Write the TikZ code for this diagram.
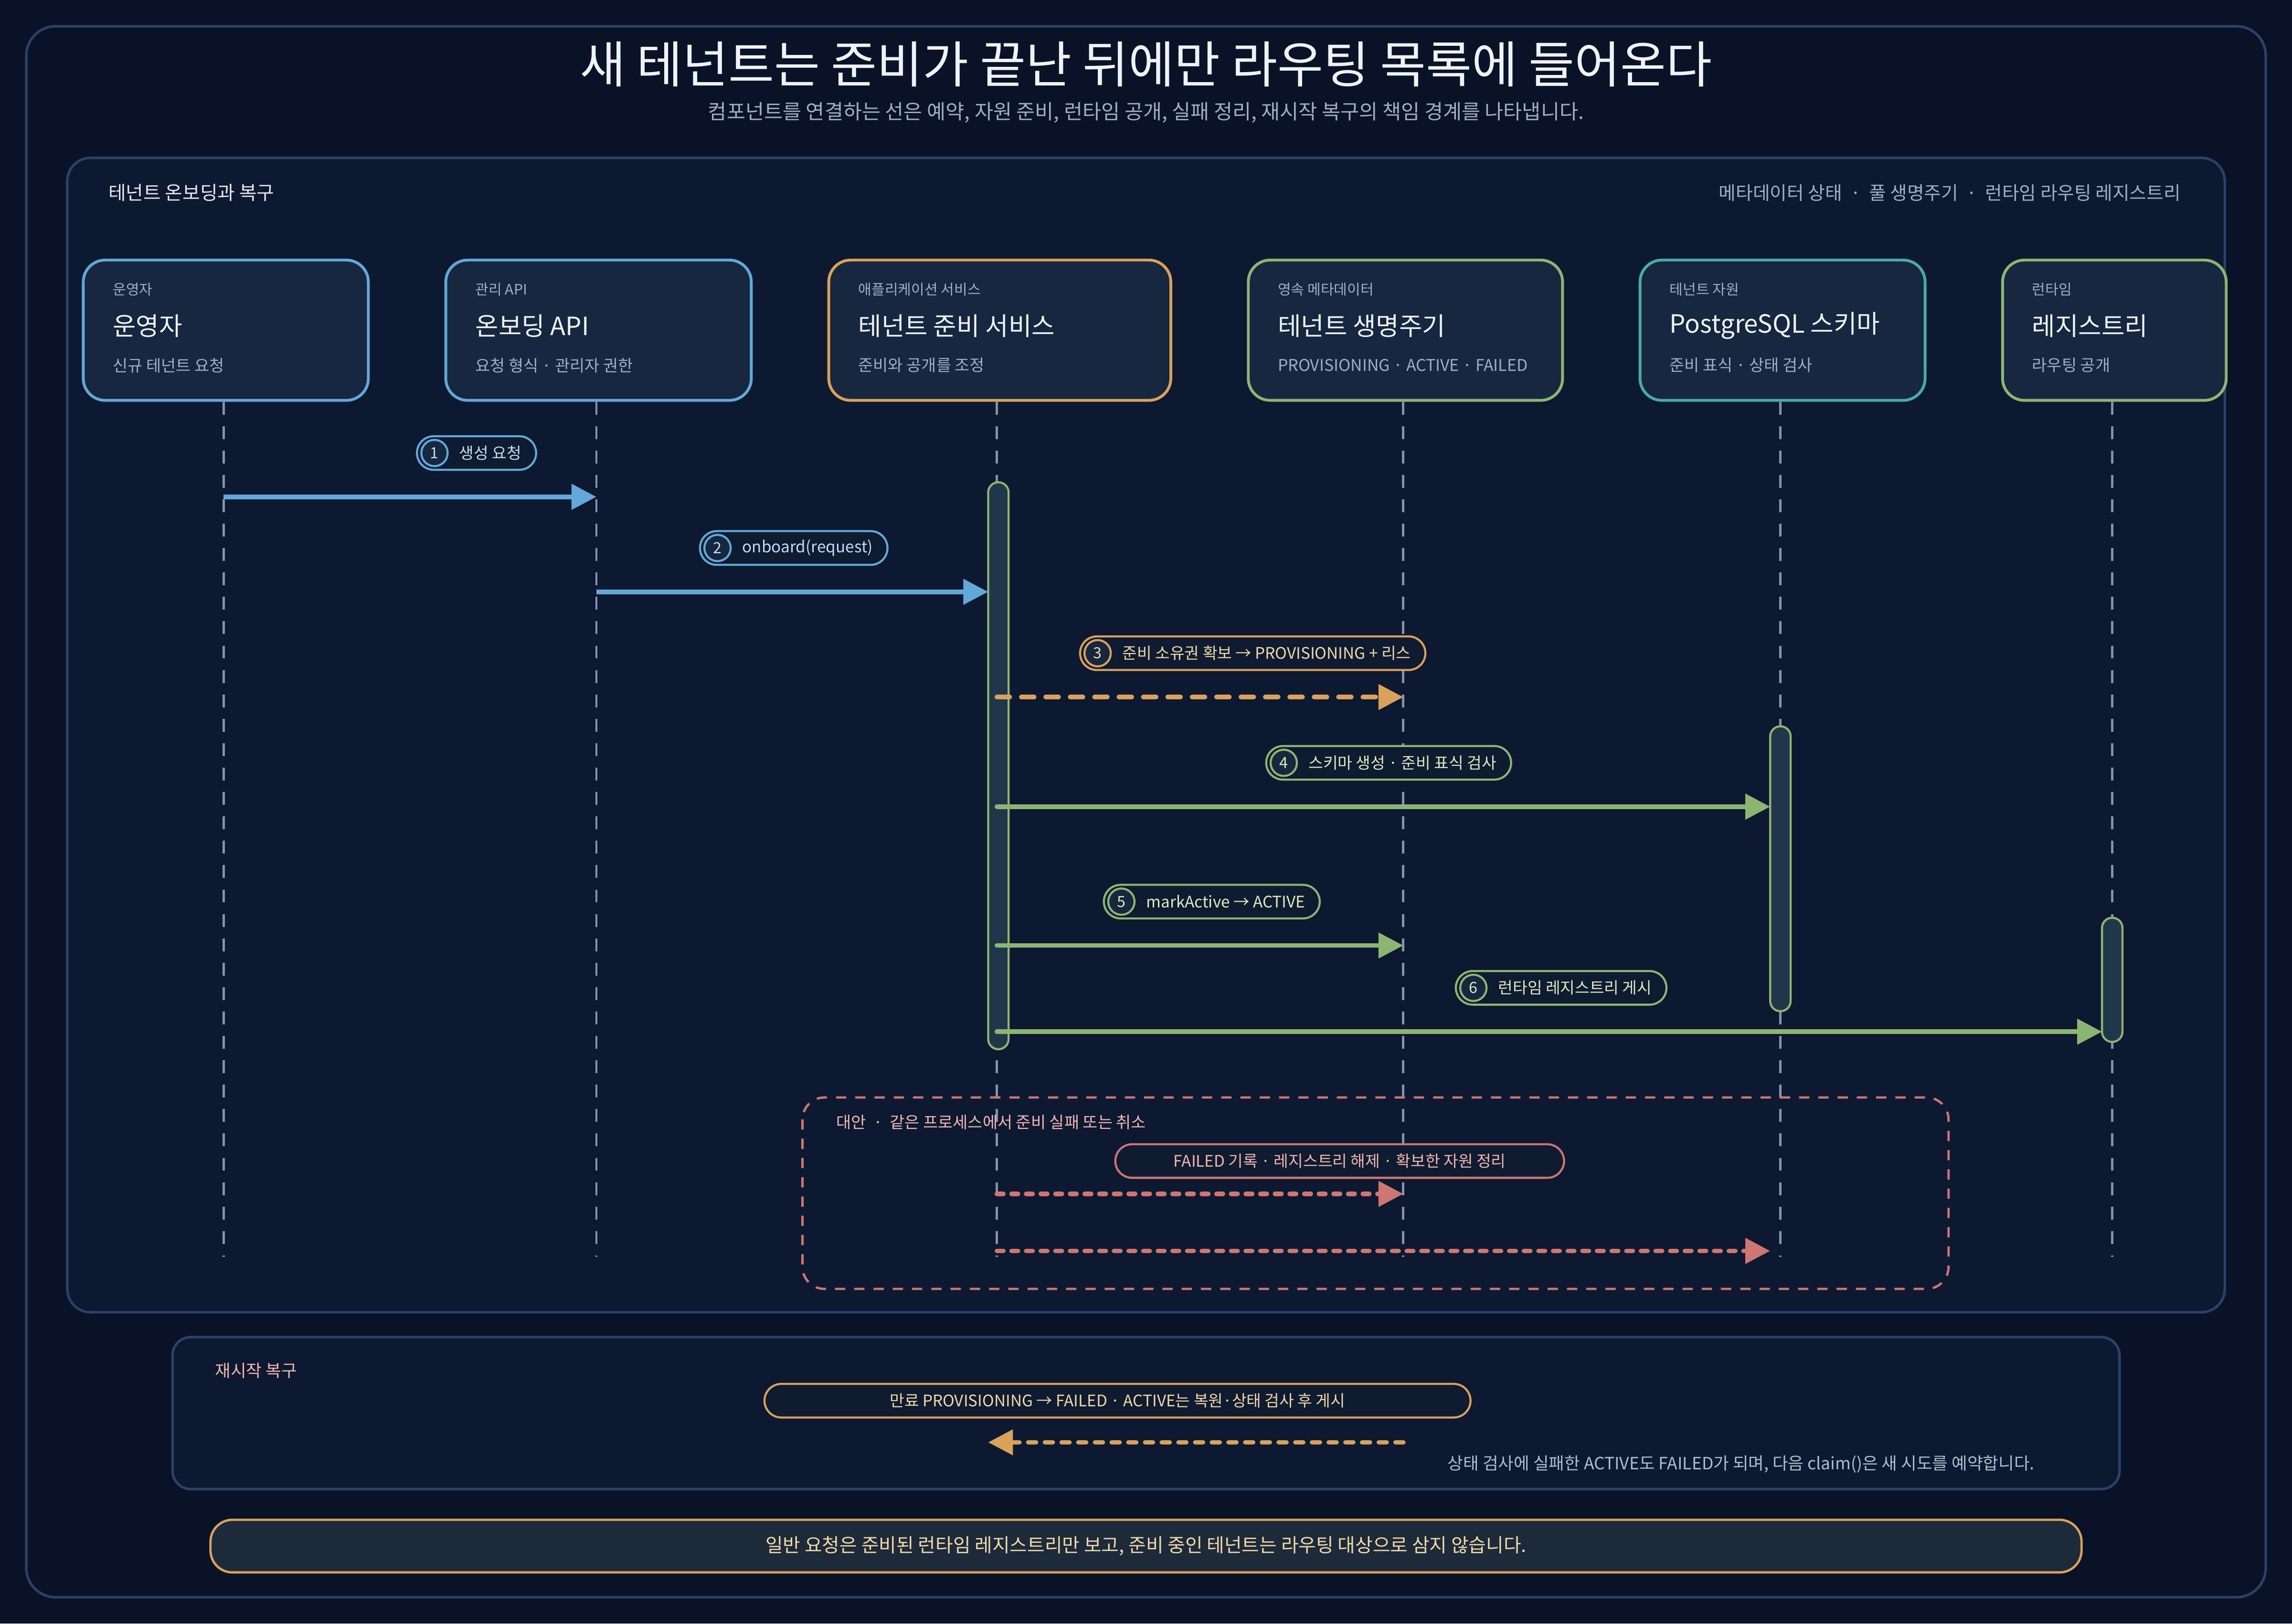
\documentclass[tikz,border=0pt]{standalone}
\usepackage{fontspec}
\setmainfont{Noto Sans CJK KR}
\usetikzlibrary{arrows.meta,positioning,calc}
\definecolor{bg}{HTML}{0A1227}
\definecolor{frame}{HTML}{2B4168}
\definecolor{panel}{HTML}{0D1931}
\definecolor{card}{HTML}{16273F}
\definecolor{txt}{HTML}{EEF3FA}
\definecolor{mut}{HTML}{9FAEC6}
\definecolor{cb}{HTML}{62A8D8}
\definecolor{co}{HTML}{D9A15A}
\definecolor{cg}{HTML}{8DB572}
\definecolor{ct}{HTML}{4BAAA5}
\definecolor{cr}{HTML}{CF7572}
\definecolor{life}{HTML}{8393AC}
\definecolor{actf}{HTML}{20374B}
\definecolor{pillf}{HTML}{0F1B30}
\definecolor{tb}{HTML}{BFDDF2}
\definecolor{tor}{HTML}{F2D9A8}
\definecolor{tg}{HTML}{DCEDBE}
\definecolor{tr}{HTML}{F3B7AF}
\definecolor{footf}{HTML}{1D2A3A}
\begin{document}
\begin{tikzpicture}[x=0.02cm,y=-0.02cm,
  cardst/.style={draw=#1,line width=1.1pt,fill=card,rounded corners=0.3cm,anchor=north west,inner sep=0},
  small/.style={font=\fontsize{5.6}{6}\selectfont,text=mut,anchor=west},
  ctitle/.style={font=\fontsize{9.8}{11}\selectfont,text=txt,anchor=west},
  csub/.style={font=\fontsize{6.3}{7}\selectfont,text=mut,anchor=west},
  lifeline/.style={draw=life,line width=0.9pt,dash pattern=on 5pt off 4.5pt},
  act/.style={draw=cg,line width=0.8pt,fill=actf,rounded corners=0.14cm,minimum width=0.28cm,inner sep=0},
  msg/.style={draw=#1,line width=1.8pt,-{Triangle[length=0.34cm,width=0.34cm]}},
  pill/.style={draw=#1,line width=0.8pt,fill=pillf,rounded corners=0.23cm,minimum height=0.46cm,inner xsep=0.2cm,font=\fontsize{6.2}{7}\selectfont},
  num/.style={draw=#1,line width=0.8pt,circle,fill=card,minimum size=0.36cm,inner sep=0,font=\fontsize{6}{7}\selectfont}]
\useasboundingbox (0,0) rectangle (1568,1111);
\fill[bg] (0,0) rectangle (1568,1111);
\draw[frame,line width=1pt,fill=bg,rounded corners=0.4cm] (18,18) rectangle (1550,1093);
\node[font=\fontsize{19.4}{21}\selectfont,text=txt] (title) at (784,44) {새 테넌트는 준비가 끝난 뒤에만 라우팅 목록에 들어온다};
\node[font=\fontsize{7.9}{9}\selectfont,text=mut] (subt) at (784,77) {컴포넌트를 연결하는 선은 예약, 자원 준비, 런타임 공개, 실패 정리, 재시작 복구의 책임 경계를 나타냅니다.};
\draw[frame,line width=1pt,fill=panel,rounded corners=0.32cm] (46,108) rectangle (1522,898);
\node[font=\fontsize{7.4}{8}\selectfont,text=txt!85!mut,anchor=west] (ph) at (68,132) {테넌트 온보딩과 복구};
\node[font=\fontsize{7.2}{8}\selectfont,text=mut,anchor=east] (pr) at (1498,132) {메타데이터 상태 \ · \ 풀 생명주기 \ · \ 런타임 라우팅 레지스트리};
% cards
\foreach \n/\x/\w/\k/\a/\b/\d in {
 c1/56/195/cb/운영자/운영자/신규 테넌트 요청,
 c2/304/209/cb/관리 API/온보딩 API/요청 형식 · 관리자 권한,
 c3/566/234/co/애플리케이션 서비스/테넌트 준비 서비스/준비와 공개를 조정,
 c4/853/215/cg/영속 메타데이터/테넌트 생명주기/PROVISIONING · ACTIVE · FAILED,
 c5/1121/195/ct/테넌트 자원/PostgreSQL 스키마/준비 표식 · 상태 검사,
 c6/1369/153/cg/런타임/레지스트리/라우팅 공개}{
 \node[cardst=\k,minimum width=\w*0.02cm,minimum height=96*0.02cm] (\n) at (\x,177) {};
 \node[small] (\n s) at (\x+15,198) {\a};
 \node[ctitle] (\n t) at (\x+15,223) {\b};
 \node[csub] (\n u) at (\x+15,250) {\d};
}
% lifelines
\foreach \n/\x in {c1/153,c2/408,c3/682,c4/960,c5/1218,c6/1445}{
 \coordinate (\n e) at (\x,860);
 \draw[lifeline] (\n.south -| \n e) -- (\n e);
}
% activation bars
\node[act,minimum height=388*0.02cm] (a3) at (683,524) {};
\node[act,minimum height=195*0.02cm] (a5) at (1218,594.5) {};
\node[act,minimum height=85*0.02cm] (a6) at (1445,670.5) {};
% message endpoints
\coordinate (m1s) at (153,340); \coordinate (m1e) at (408,340);
\coordinate (m2s) at (408,405); \coordinate (m2e) at (676,405);
\coordinate (m3s) at (682,477); \coordinate (m3e) at (960,477);
\coordinate (m4s) at (682,552); \coordinate (m4e) at (1211,552);
\coordinate (m5s) at (682,647); \coordinate (m5e) at (960,647);
\coordinate (m6s) at (682,706); \coordinate (m6e) at (1438,706);
\draw[msg=cb] (m1s) -- (m1e);
\draw[msg=cb] (m2s) -- (m2e);
\draw[msg=co,line cap=round,dash pattern=on 5pt off 4.5pt] (m3s) -- (m3e);
\draw[msg=cg,line cap=round] (m4s) -- (m4e);
\draw[msg=cg,line cap=round] (m5s) -- (m5e);
\draw[msg=cg,line cap=round] (m6s) -- (m6e);
% labels
\node[pill=cb,text=tb] (p1) at (326,310) {\hspace{0.38cm}생성 요청};
\node[num=cb,text=tb,right=0.06cm of p1.west,anchor=west] (n1) {1};
\node[pill=cb,text=tb] (p2) at (543,375) {\hspace{0.38cm}onboard(request)};
\node[num=cb,text=tb,right=0.06cm of p2.west,anchor=west] (n2) {2};
\node[pill=co,text=tor] (p3) at (857,447) {\hspace{0.38cm}준비 소유권 확보 → PROVISIONING + 리스};
\node[num=co,text=tor,right=0.06cm of p3.west,anchor=west] (n3) {3};
\node[pill=cg,text=tg] (p4) at (950,522) {\hspace{0.38cm}스키마 생성 · 준비 표식 검사};
\node[num=cg,text=tg,right=0.06cm of p4.west,anchor=west] (n4) {4};
\node[pill=cg,text=tg] (p5) at (829,617) {\hspace{0.38cm}markActive → ACTIVE};
\node[num=cg,text=tg,right=0.06cm of p5.west,anchor=west] (n5) {5};
\node[pill=cg,text=tg] (p6) at (1068,676) {\hspace{0.38cm}런타임 레지스트리 게시};
\node[num=cg,text=tg,right=0.06cm of p6.west,anchor=west] (n6) {6};
% alt box
\draw[cr,line width=0.9pt,dash pattern=on 4pt off 3.5pt,rounded corners=0.3cm] (549,751) rectangle (1333,882);
\node[font=\fontsize{6.3}{7}\selectfont,text=tr,anchor=west] (altl) at (566,768) {대안 \ · \ 같은 프로세스에서 준비 실패 또는 취소};
\node[pill=cr,text=tr,minimum width=307*0.02cm] (pf) at (916.5,794.5) {FAILED 기록 · 레지스트리 해제 · 확보한 자원 정리};
\coordinate (f1s) at (682,817); \coordinate (f1e) at (960,817);
\coordinate (f2s) at (682,856); \coordinate (f2e) at (1211,856);
\draw[msg=cr,line cap=round,dash pattern=on 2.5pt off 3.2pt] (f1s) -- (f1e);
\draw[msg=cr,line cap=round,dash pattern=on 2.5pt off 3.2pt] (f2s) -- (f2e);
% recovery panel
\draw[frame,line width=1pt,fill=panel,rounded corners=0.25cm] (118,915) rectangle (1450,1019);
\node[font=\fontsize{6.6}{7}\selectfont,text=tr,anchor=west] (rl) at (141,938) {재시작 복구};
\node[pill=co,text=tor,minimum width=483*0.02cm] (pr2) at (764.5,958.5) {만료 PROVISIONING → FAILED · ACTIVE는 복원·상태 검사 후 게시};
\coordinate (r1s) at (960,987); \coordinate (r1e) at (676,987);
\draw[msg=co,line cap=round,dash pattern=on 3pt off 3.5pt] (r1s) -- (r1e);
\node[font=\fontsize{6.6}{7}\selectfont,text=mut!80!txt,anchor=east] (rn) at (1398,1002) {상태 검사에 실패한 ACTIVE도 FAILED가 되며, 다음 claim()은 새 시도를 예약합니다.};
% footer
\node[draw=co,line width=0.9pt,fill=footf,rounded corners=0.3cm,minimum width=1280*0.02cm,minimum height=36*0.02cm,font=\fontsize{7.4}{8}\selectfont,text=tor] (foot) at (784,1058) {일반 요청은 준비된 런타임 레지스트리만 보고, 준비 중인 테넌트는 라우팅 대상으로 삼지 않습니다.};
\end{tikzpicture}
\end{document}
